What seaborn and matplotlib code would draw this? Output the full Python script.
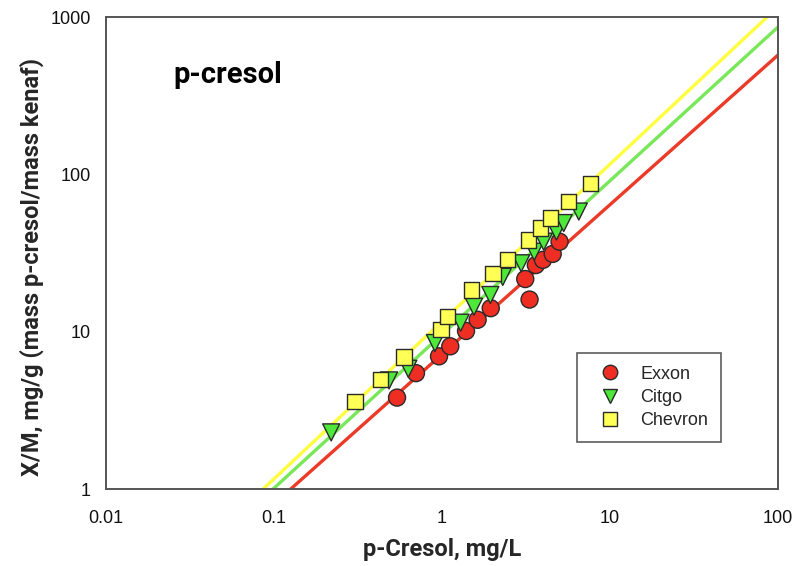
import numpy as np
import pandas as pd
import matplotlib
matplotlib.use("Agg")
import matplotlib.pyplot as plt
import seaborn as sns

# Adsorption of p-cresol onto kenaf: equilibrium concentration vs. uptake
exxon_c = [0.54, 0.70, 0.96, 1.12, 1.39, 1.63, 1.95, 3.13, 3.32, 3.62, 3.99, 4.56, 5.01]
exxon_q = [3.81, 5.45, 6.97, 8.07, 10.1, 11.9, 14.1, 21.6, 16.0, 26.5, 28.6, 31.2, 37.3]

citgo_c = [0.219, 0.484, 0.63, 0.908, 1.29, 1.55, 1.94, 2.30, 2.96, 3.54, 4.03, 4.80, 5.30, 6.52]
citgo_q = [2.29, 4.90, 5.81, 8.47, 11.4, 14.4, 17.1, 22.3, 27.2, 32.2, 37.3, 43.3, 49.0, 58.0]

chevron_c = [0.303, 0.431, 0.593, 0.986, 1.08, 1.50, 2.01, 2.45, 3.27, 3.85, 4.42, 5.68, 7.66]
chevron_q = [3.61, 4.97, 6.90, 10.3, 12.5, 18.4, 23.5, 28.8, 38.3, 45.5, 52.7, 67.2, 87.2]

companies = ["Exxon", "Citgo", "Chevron"]

# Freundlich fits q = K * C^(1/n)
freundlich_k = {"Exxon": 7.18, "Citgo": 9.6, "Chevron": 11.6}
freundlich_inv_n = {"Exxon": 0.951, "Citgo": 0.977, "Chevron": 1.0}

x_ticks = [0.01, 0.1, 1, 10, 100]
x_tick_labels = ["0.01", "0.1", "1", "10", "100"]
y_ticks = [1, 10, 100, 1000]
y_tick_labels = ["1", "10", "100", "1000"]

point_colors = {"Exxon": "#ee2e22", "Citgo": "#4ee83a", "Chevron": "#ffff55"}
line_colors = {"Exxon": "#ec3a28", "Citgo": "#78e858", "Chevron": "#ffff40"}
markers = {"Exxon": "o", "Citgo": "v", "Chevron": "s"}
sizes = {"Exxon": 150, "Citgo": 150, "Chevron": 125}

points = pd.concat([
    pd.DataFrame({"C": exxon_c, "q": exxon_q, "company": "Exxon"}),
    pd.DataFrame({"C": citgo_c, "q": citgo_q, "company": "Citgo"}),
    pd.DataFrame({"C": chevron_c, "q": chevron_q, "company": "Chevron"}),
], ignore_index=True)

c_line = np.geomspace(0.01, 100, 200)
fits = pd.concat([
    pd.DataFrame({"C": c_line,
                  "q": freundlich_k[name] * c_line ** freundlich_inv_n[name],
                  "company": name})
    for name in companies
], ignore_index=True)

sns.set_style("white")
plt.rcParams["font.family"] = ["Liberation Sans", "DejaVu Sans"]

W, H = 795, 566
fig = plt.figure(figsize=(W / 100, H / 100), dpi=100)
ax = fig.add_axes([106 / W, 1 - 489 / H, 672 / W, 472 / H])
ax.set_xscale("log")
ax.set_yscale("log")

sns.lineplot(data=fits, x="C", y="q", hue="company", hue_order=companies,
             palette=line_colors, linewidth=2.4, legend=False, ax=ax, zorder=1)

sns.scatterplot(data=points, x="C", y="q", hue="company", style="company",
                size="company", hue_order=companies, style_order=companies,
                size_order=companies, palette=point_colors, markers=markers,
                sizes=sizes, edgecolor="#2a2a2a", linewidth=1.0, alpha=1,
                ax=ax, zorder=3)

ax.set_xlim(0.01, 100)
ax.set_ylim(1, 1000)
ax.set_xticks(x_ticks)
ax.set_xticklabels(x_tick_labels)
ax.set_yticks(y_ticks)
ax.set_yticklabels(y_tick_labels)
ax.minorticks_off()

spine_color = "#555555"
for side in ["left", "right", "top", "bottom"]:
    ax.spines[side].set_color(spine_color)
    ax.spines[side].set_linewidth(1.4)
ax.tick_params(axis="both", which="major", direction="out", length=5,
               width=1.2, color=spine_color, labelsize=13, labelcolor="#111111")
ax.tick_params(axis="x", pad=10)
ax.tick_params(axis="y", pad=6)

label_font = dict(family=["Roboto", "DejaVu Sans"], weight="bold", size=17)
ax.set_xlabel("p-Cresol, mg/L", fontdict=label_font, labelpad=8)
ax.set_ylabel("X/M, mg/g (mass p-cresol/mass kenaf)", fontdict=label_font)
ax.yaxis.set_label_coords(-0.092, 0.47)

ax.text(0.0997, 0.86, "p-cresol", transform=ax.transAxes,
        family=["Roboto", "DejaVu Sans"], weight="bold", size=21,
        ha="left", va="baseline", color="#000000")

sns.move_legend(ax, "lower left", bbox_to_anchor=(0.701, 0.0996),
                borderaxespad=0, title=None, frameon=True, fancybox=False,
                fontsize=13, borderpad=0.7, handlelength=2.2,
                handletextpad=0.6, labelspacing=0.35, markerscale=0.85)
leg = ax.get_legend()
leg.get_frame().set_edgecolor("#333333")
leg.get_frame().set_linewidth(1.2)

fig.savefig("out.png", dpi=100)
